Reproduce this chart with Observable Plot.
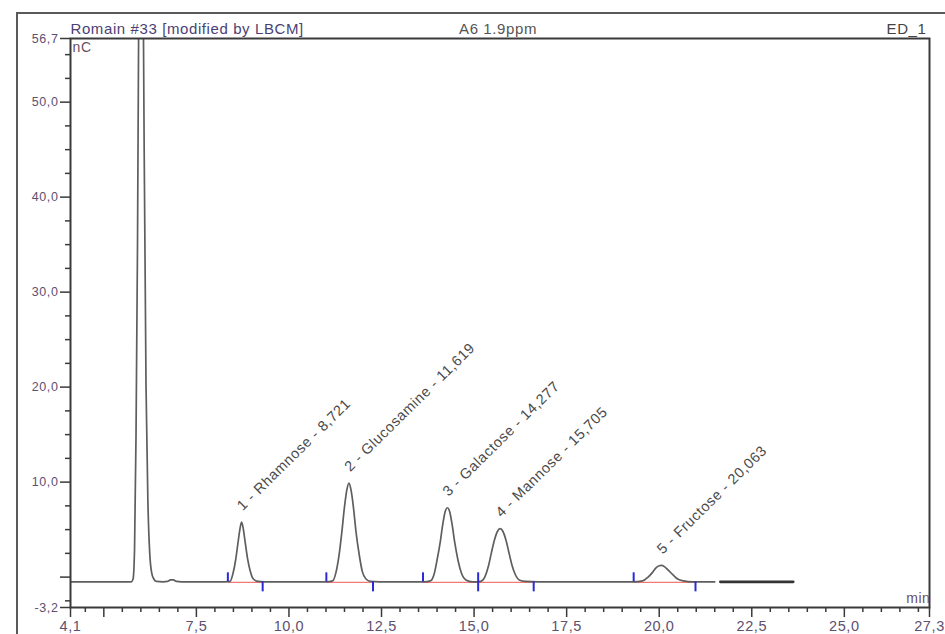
<!DOCTYPE html>
<html><head><meta charset="utf-8">
<script src="https://cdn.jsdelivr.net/npm/d3@7"></script>
<script src="https://cdn.jsdelivr.net/npm/@observablehq/plot@0.6"></script>
<style>
html,body{margin:0;padding:0;background:#fff;overflow:hidden;}
#wrap{position:relative;width:945px;height:634px;overflow:hidden;}
#outer{position:absolute;left:16px;top:12px;width:2000px;height:2000px;border-left:2px solid #5a5a5a;border-top:2px solid #5a5a5a;pointer-events:none;z-index:2;}
#chart{position:absolute;left:0;top:0;z-index:1;}
</style></head>
<body><div id="wrap"><div id="outer"></div><div id="chart"></div></div>
<script>
// ---- data ----
const traceTime = [4.10,5.00,5.74,5.79,5.83,5.87,5.91,5.95,6.00,6.05,6.09,6.14,6.19,6.24,6.29,6.35,6.42,6.60,6.72,6.80,6.88,6.96,7.10,8.00,
  8.29,8.41,8.49,8.56,8.63,8.674,8.72,8.766,8.81,8.88,8.95,9.04,9.16,9.33,
  11.00,11.18,11.27,11.36,11.43,11.50,11.56,11.62,11.68,11.74,11.81,11.90,11.98,12.08,12.20,12.44,
  13.64,13.82,13.92,14.00,14.09,14.16,14.22,14.28,14.34,14.40,14.48,14.57,14.66,14.78,14.96,15.08,
  15.18,15.30,15.39,15.47,15.55,15.63,15.705,15.78,15.86,15.94,16.02,16.11,16.22,16.38,16.73,
  19.30,19.55,19.70,19.82,19.92,20.00,20.06,20.14,20.25,20.38,20.50,20.65,20.90,21.50];
const traceSignal = [-0.5,-0.5,-0.5,-0.2,3,15,35,65,95,70,45,20,8,2.5,0.5,-0.2,-0.45,-0.5,-0.45,-0.3,-0.3,-0.45,-0.5,-0.5,
  -0.5,-0.45,0.4,1.8,3.8,5.0,5.8,5.1,3.9,2.0,0.7,-0.2,-0.45,-0.5,
  -0.5,-0.4,0.5,2.5,4.8,7.4,9.1,9.9,9.1,7.4,4.8,2.3,0.6,-0.2,-0.45,-0.5,
  -0.5,-0.4,0.3,1.8,3.8,5.7,6.9,7.3,6.9,5.7,3.6,1.7,0.4,-0.3,-0.5,-0.5,
  -0.45,0.1,1.2,2.6,3.9,4.8,5.1,4.8,3.9,2.6,1.3,0.3,-0.3,-0.45,-0.5,
  -0.5,-0.4,0.0,0.5,1.0,1.2,1.23,1.1,0.7,0.2,-0.2,-0.4,-0.5,-0.5];
const tailTime = [21.65, 23.62];
const tailSignal = [-0.5, -0.5];

const peakNumbers = [1, 2, 3, 4, 5];
const peakNames = ["Rhamnose", "Glucosamine", "Galactose", "Mannose", "Fructose"];
const peakTimes = [8.721, 11.619, 14.277, 15.705, 20.063];
const peakHeights = [5.8, 9.9, 7.3, 5.1, 1.23];

const integStart = [8.35, 11.01, 13.62, 15.11, 19.31];
const integEnd = [9.29, 12.27, 15.11, 16.61, 20.98];
const baselineLevel = -0.5;

const yLabelTicks = [-3.2, 10, 20, 30, 40, 50, 56.7];
const yMajorTicks = [0];
const yMinorTicks = [-2.5, 2.5, 5, 7.5, 12.5, 15, 17.5, 22.5, 25, 27.5, 32.5, 35, 37.5, 42.5, 45, 47.5, 52.5, 55];
const xLabelTicks = [4.1, 7.5, 10, 12.5, 15, 17.5, 20, 22.5, 25, 27.3];
const xMajorTicks = [5];
const xMinorTicks = [4.5,5.5,6,6.5,7,8,8.5,9,9.5,10.5,11,11.5,12,13,13.5,14,14.5,15.5,16,16.5,17,18,18.5,19,19.5,20.5,21,21.5,22,23,23.5,24,24.5,25.5,26,26.5,27];

const headerLeft = "Romain #33 [modified by LBCM]";
const headerCenter = "A6 1.9ppm";
const headerRight = "ED_1";
const yUnit = "nC";
const xUnit = "min";

// ---- build ----
const fmt = v => v.toFixed(1).replace(".", ",");
const fmt3 = v => v.toFixed(3).replace(".", ",");
const trace = traceTime.map((t, i) => ({t, v: traceSignal[i]}));
const tail = tailTime.map((t, i) => ({t, v: tailSignal[i]}));
const peaks = peakNumbers.map((n, i) => ({t: peakTimes[i], v: peakHeights[i], label: `${n} - ${peakNames[i]} - ${fmt3(peakTimes[i])}`}));
const integ = integStart.map((s, i) => ({s, e: integEnd[i]}));

const axisColor = "#3a3a3a";
const labelColor = "#5d5070";

const chart = Plot.plot({
  width: 945, height: 634,
  marginTop: 38, marginRight: 16, marginBottom: 27, marginLeft: 70,
  x: {domain: [4.1, 27.3]},
  y: {domain: [-3.2, 56.7]},
  style: {fontFamily: "'Liberation Sans', Arial, sans-serif", background: "transparent", overflow: "visible"},
  marks: [
    Plot.link(integ, {x1: "s", x2: "e", y1: () => baselineLevel - 0.05, y2: () => baselineLevel - 0.05, stroke: "#f07a7a", strokeWidth: 1.3}),
    Plot.line(trace, {x: "t", y: "v", stroke: "#5e5e5e", strokeWidth: 1.7, curve: "monotone-x", clip: true}),
    Plot.line(tail, {x: "t", y: "v", stroke: "#333", strokeWidth: 2.6}),
    Plot.ruleX(integStart, {x: d => d, y1: () => baselineLevel, y2: () => baselineLevel + 0.95, stroke: "#2a2ad8", strokeWidth: 2}),
    Plot.ruleX(integEnd, {x: d => d, y1: () => baselineLevel, y2: () => baselineLevel - 1.05, stroke: "#2a2ad8", strokeWidth: 2}),
    Plot.frame({stroke: axisColor, strokeWidth: 2}),
    Plot.axisY({ticks: yLabelTicks, tickSize: 10, tickFormat: fmt, stroke: axisColor, strokeWidth: 1.5, fill: labelColor, fontSize: 12.5, tickPadding: 2, label: null}),
    Plot.axisY({ticks: yMajorTicks, tickSize: 10, stroke: axisColor, strokeWidth: 1.5, fill: "none", label: null}),
    Plot.axisY({ticks: yMinorTicks, tickSize: 5, stroke: axisColor, strokeWidth: 1.5, fill: "none", label: null}),
    Plot.axisX({ticks: xLabelTicks, tickSize: 10, tickFormat: fmt, stroke: axisColor, strokeWidth: 1.5, fill: labelColor, fontSize: 14.5, tickPadding: 3, label: null}),
    Plot.axisX({ticks: xMajorTicks, tickSize: 10, stroke: axisColor, strokeWidth: 1.5, fill: "none", label: null}),
    Plot.axisX({ticks: xMinorTicks, tickSize: 5, stroke: axisColor, strokeWidth: 1.5, fill: "none", label: null}),
    Plot.text(peaks, {x: "t", y: "v", text: "label", rotate: -44.5, textAnchor: "start", dx: -2, dy: -14, fontSize: 14.5, fill: "#4a4a4a"}),
    Plot.text([headerLeft], {frameAnchor: "top-left", textAnchor: "start", lineAnchor: "middle", dx: 0, dy: -9, fontSize: 15, fill: "#4b3f74"}),
    Plot.text([headerCenter], {frameAnchor: "top", lineAnchor: "middle", dx: -2, dy: -9, fontSize: 15, fill: "#555"}),
    Plot.text([headerRight], {frameAnchor: "top-right", textAnchor: "end", lineAnchor: "middle", dx: -3, dy: -9, fontSize: 15, fill: "#444"}),
    Plot.text([yUnit], {frameAnchor: "top-left", textAnchor: "start", lineAnchor: "middle", dx: 2, dy: 9, fontSize: 14, fill: "#6a5060"}),
    Plot.text([xUnit], {frameAnchor: "bottom-right", textAnchor: "end", lineAnchor: "middle", dx: 1, dy: -9, fontSize: 14, fill: "#6a5060"})
  ]
});
chart.style.letterSpacing = "0.6px";
document.getElementById("chart").appendChild(chart);
</script>
</body></html>
